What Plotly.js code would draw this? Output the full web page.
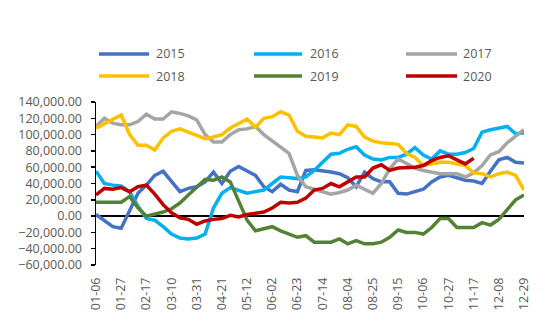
<!DOCTYPE html>
<html>
<head>
<meta charset="utf-8">
<script src="https://cdn.plot.ly/plotly-3.0.1.min.js"></script>
<style>html,body{margin:0;padding:0;background:#fff;}#chart{width:550px;height:324px;}</style>
</head>
<body>
<div id="chart"></div>
<script>
// Weekly categories (MM-DD)
const weeks = ["01-06","01-13","01-20","01-27","02-03","02-10","02-17","02-24","03-03","03-10","03-17","03-24","03-31","04-07","04-14","04-21","04-28","05-05","05-12","05-19","05-26","06-02","06-09","06-16","06-23","06-30","07-07","07-14","07-21","07-28","08-04","08-11","08-18","08-25","09-01","09-08","09-15","09-22","09-29","10-06","10-13","10-20","10-27","11-03","11-10","11-17","11-24","12-01","12-08","12-15","12-22","12-29"];
const tickLabels = ["01-06","01-27","02-17","03-10","03-31","04-21","05-12","06-02","06-23","07-14","08-04","08-25","09-15","10-06","10-27","11-17","12-08","12-29"];

const seriesNames = ["2015","2016","2017","2018","2019","2020"];

const v2015 = [2000,-5000,-13000,-15000,7000,28000,38000,50000,55000,42000,30000,34000,36000,42000,54000,40000,55000,61000,55000,50000,36000,30000,39000,32000,30000,56000,57000,56000,54000,52000,47000,36000,54000,46000,42000,42000,28000,27000,30000,33000,42000,48000,50000,47000,44000,43000,40000,55000,69000,72000,66000,65000];
const v2016 = [55000,40000,38000,37000,30000,12000,-3000,-5000,-13000,-22000,-27000,-28000,-27000,-22000,10000,28000,35000,32000,28000,30000,32000,40000,48000,47000,46000,48000,56000,66000,76000,77000,82000,85000,75000,70000,69000,72000,72000,76000,84000,75000,70000,80000,76000,76000,78000,83000,103000,106000,108000,110000,101000,102000];
const v2017 = [110000,120000,114000,112000,112000,116000,125000,119000,119000,128000,126000,123000,118000,100000,91000,91000,100000,106000,107000,110000,100000,92000,85000,77000,50000,36000,33000,30000,27000,29000,32000,38000,33000,28000,40000,58000,70000,65000,59000,56000,54000,52000,52000,52000,48000,53000,62000,75000,79000,90000,98000,106000];
const v2018 = [108000,113000,118000,124000,100000,87000,87000,81000,96000,104000,107000,103000,98000,95000,97000,100000,108000,113000,119000,109000,120000,122000,128000,124000,104000,98000,97000,96000,102000,100000,112000,110000,97000,92000,90000,89000,88000,77000,72000,62000,64000,66000,66000,64000,62000,53000,52000,48000,52000,54000,50000,32000];
const v2019 = [17000,17000,17000,17000,24000,10000,0,2000,5000,9000,16000,26000,36000,45000,44000,48000,42000,18000,-5000,-18000,-16000,-13000,-18000,-22000,-26000,-24000,-32000,-32000,-32000,-28000,-34000,-30000,-34000,-34000,-32000,-26000,-17000,-20000,-20000,-22000,-14000,-3000,-3000,-14000,-14000,-14000,-8000,-11000,-4000,8000,20000,26000];
const v2020 = [26000,34000,33000,35000,30000,36000,38000,27000,14000,4000,-2000,-4000,-10000,-6000,-4000,-3000,1000,-1000,2000,4000,5000,10000,17000,16000,17000,22000,32000,34000,40000,36000,42000,48000,48000,59000,63000,56000,59000,59000,60000,62000,68000,72000,74000,69000,64000,71000];

const seriesValues = [v2015, v2016, v2017, v2018, v2019, v2020];
const seriesColors = ["#4472C4","#00B0F0","#A5A5A5","#FFC000","#548235","#C00000"];

const FONT = "Open Sans, Liberation Sans, sans-serif";
const TXT = "#595959";

// plot area geometry (pixels)
const W = 550, H = 324;
const M = {l:96, r:26, t:102, b:59};
const pw = W - M.l - M.r, ph = H - M.t - M.b;
const px2x = p => (p - M.l) / pw;
const py2y = p => (H - M.b - p) / ph;

const traces = seriesNames.map((name, i) => ({
  type: "scatter",
  mode: "lines",
  name: name,
  x: weeks.slice(0, seriesValues[i].length),
  y: seriesValues[i],
  line: {color: seriesColors[i], width: 3.5},
  showlegend: false,
  hoverinfo: "x+y+name"
}));

// custom legend (3 columns x 2 rows)
const legCols = [{l0:99,l1:149,t:154},{l0:254,l1:302,t:308},{l0:406,l1:457,t:461}];
const legRows = [54, 76];
const shapes = [];
const annotations = [];
seriesNames.forEach((name, i) => {
  const c = legCols[i % 3], r = legRows[Math.floor(i / 3)];
  shapes.push({type:"line", xref:"paper", yref:"paper",
    x0: px2x(c.l0), x1: px2x(c.l1), y0: py2y(r), y1: py2y(r),
    line:{color: seriesColors[i], width: 3.5}});
  annotations.push({xref:"paper", yref:"paper", x: px2x(c.t), y: py2y(r),
    xanchor:"left", yanchor:"middle", showarrow:false, text: name,
    font:{family: FONT, size: 12.5, color: TXT}});
});

const yMin = -60000, yMax = 140000;

const layout = {
  width: W, height: H,
  margin: M,
  paper_bgcolor: "#fff", plot_bgcolor: "#fff",
  font: {family: FONT, size: 12.5, color: TXT},
  showlegend: false,
  xaxis: {
    type: "category",
    categoryorder: "array",
    categoryarray: weeks,
    range: [0, weeks.length - 1],
    tickmode: "array",
    tickvals: tickLabels,
    ticktext: tickLabels,
    tickangle: -90,
    ticks: "",
    showline: false,
    showgrid: false,
    zeroline: false,
    ticklabelstandoff: 9,
    tickfont: {family: FONT, size: 12.5, color: TXT},
    fixedrange: true
  },
  xaxis2: {
    overlaying: "x",
    anchor: "free",
    position: (0 - yMin) / (yMax - yMin),
    type: "linear",
    range: [0, weeks.length - 1],
    tickmode: "array",
    tickvals: tickLabels.map(t => weeks.indexOf(t)),
    ticks: "inside",
    ticklen: 5,
    tickwidth: 1.5,
    tickcolor: "#000",
    showticklabels: false,
    showline: true,
    linecolor: "#000",
    linewidth: 1.5,
    showgrid: false,
    zeroline: false,
    fixedrange: true
  },
  yaxis: {
    range: [yMin, yMax],
    dtick: 20000,
    tick0: 0,
    tickformat: ",.2f",
    ticks: "outside",
    ticklen: 4,
    tickwidth: 1.5,
    tickcolor: "#000",
    showline: true,
    linecolor: "#000",
    linewidth: 1.5,
    showgrid: false,
    zeroline: true,
    zerolinecolor: "#000",
    zerolinewidth: 1.5,
    ticklabelstandoff: 6,
    tickfont: {family: FONT, size: 12.5, color: TXT},
    fixedrange: true
  },
  shapes: shapes,
  annotations: annotations
};

Plotly.newPlot("chart", traces, layout, {displayModeBar: false, staticPlot: true});
</script>
</body>
</html>
